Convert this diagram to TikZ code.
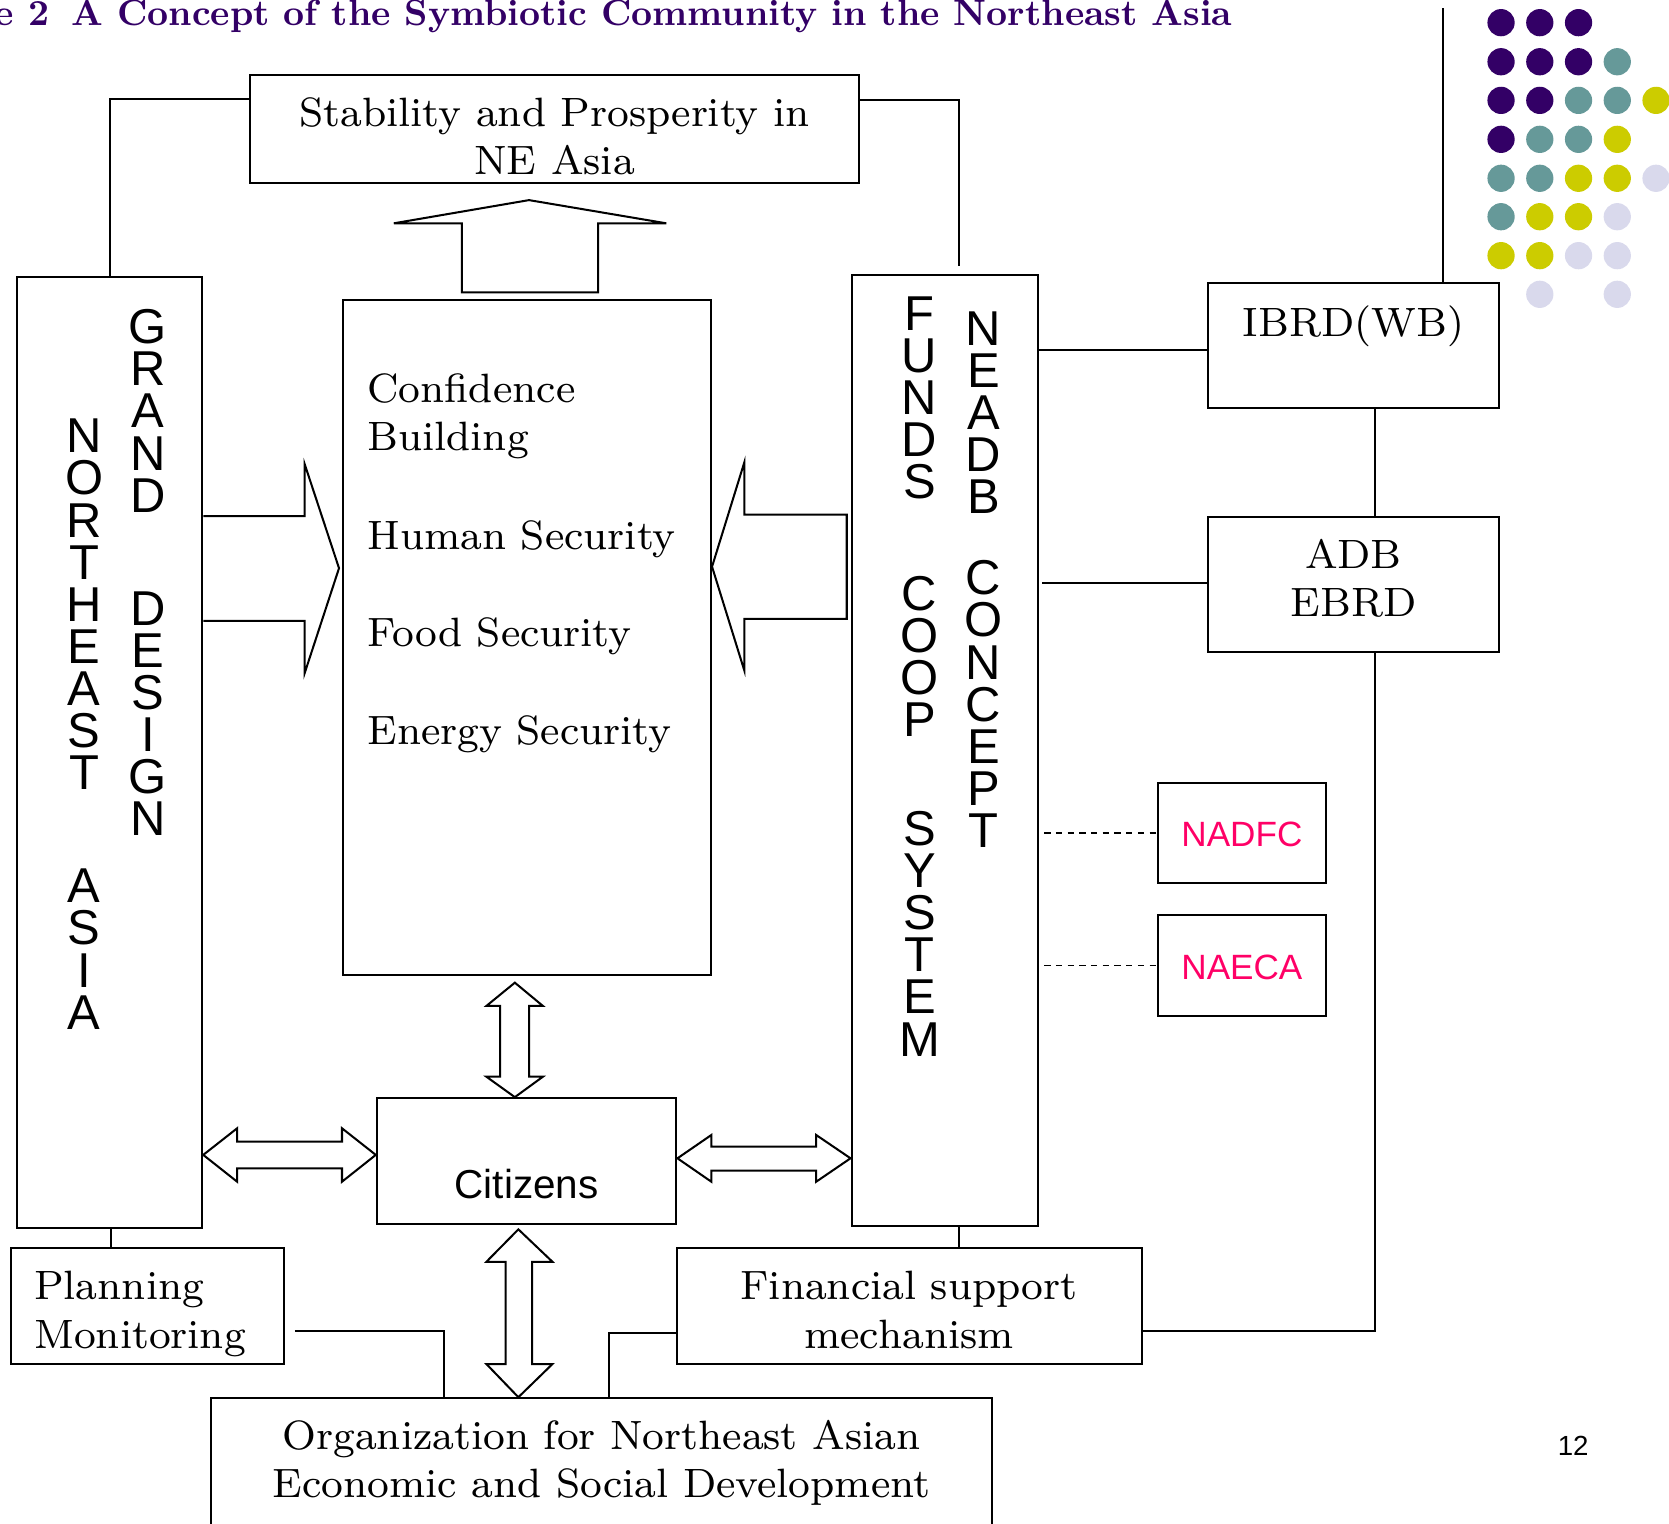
\documentclass[tikz,border=0pt]{standalone}
\usepackage{fontspec}
\setmainfont{lmroman8-regular.otf}[BoldFont=lmroman10-bold.otf]
\setsansfont{Liberation Sans}
\usetikzlibrary{calc}
\definecolor{ttl}{HTML}{330066}
\definecolor{dP}{HTML}{330066}
\definecolor{dT}{HTML}{669999}
\definecolor{dY}{HTML}{CCCC00}
\definecolor{dL}{HTML}{D9D9EC}
\definecolor{pinkt}{HTML}{FF0066}
\begin{document}
\begin{tikzpicture}[x=1pt,y=-1pt,line join=miter,
  box/.style={draw,line width=1.9pt,inner sep=0pt},
  conn/.style={line width=1.9pt},
  dconn/.style={line width=1.3pt,dash pattern=on 6pt off 5pt},
  blk/.style={draw,line width=1.9pt,fill=white},
  txt/.style={inner sep=0pt,font=\fontsize{38.5}{45.5}\selectfont},
  stxt/.style={inner sep=0pt,font=\sffamily\fontsize{38}{44}\selectfont},
  vcol/.style={inner sep=0pt,anchor=north,align=center,font=\sffamily\fontsize{46}{39.6}\selectfont},
  ]
\clip (0,0) rectangle (1568,1431);

% title
\node[anchor=base east,inner sep=0pt,text=ttl,font=\fontsize{34.4}{40}\selectfont\bfseries] (title) at (1158,24.4)
  {e 2\hspace{0.6em}A Concept of the Symbiotic Community in the Northeast Asia};

% decorative dots
\foreach \yy/\lst in {21.3/{dP,dP,dP},58/{dP,dP,dP,dT},94.3/{dP,dP,dT,dT,dY},130.9/{dP,dT,dT,dY},
                      167.5/{dT,dT,dY,dY,dL},203.6/{dT,dY,dY,dL},240.2/{dY,dY,dL,dL}}{
  \foreach \cc [count=\i] in \lst { \fill[\cc] (1410.2+36.4*\i-36.4,\yy) circle (12.8); }
}
\fill[dL] (1446.6,276.5) circle (12.8);
\fill[dL] (1519.4,276.5) circle (12.8);

% boxes
\node[box,minimum width=572pt,minimum height=101.7pt] (stab) at (521,121.4) {};
\node[box,minimum width=174pt,minimum height=894pt] (gd) at (103,707) {};
\node[box,minimum width=345.5pt,minimum height=634pt] (cb) at (495.25,599) {};
\node[box,minimum width=175pt,minimum height=893.6pt] (rb) at (887.5,705.2) {};
\node[box,minimum width=273pt,minimum height=117.5pt] (ibrd) at (1271.5,324.75) {};
\node[box,minimum width=273pt,minimum height=126.8pt] (adb) at (1271.5,548.9) {};
\node[box,minimum width=157.5pt,minimum height=93.9pt] (nadfc) at (1166.75,782.45) {};
\node[box,minimum width=157.5pt,minimum height=94.9pt] (naeca) at (1166.75,907.05) {};
\node[box,minimum width=281.5pt,minimum height=118.3pt] (cit) at (494.75,1090.85) {};
\node[box,minimum width=257pt,minimum height=109.4pt] (plan) at (138.5,1227) {};
\node[box,minimum width=437pt,minimum height=109.4pt] (fin) at (854.5,1227) {};
\node[box,minimum width=734pt,minimum height=146.4pt] (org) at (565,1386.8) {};

% texts
\node[txt,anchor=base] (t1) at (521,119) {Stability and Prosperity in};
\node[txt,anchor=base] (t2) at (521,164.4) {NE Asia};
\node[txt,anchor=base west] (t3) at (345,378.3) {Confidence};
\node[txt,anchor=base west] (t4) at (345,422.8) {Building};
\node[txt,anchor=base west] (t5) at (345,516) {Human Security};
\node[txt,anchor=base west] (t6) at (345,607) {Food Security};
\node[txt,anchor=base west] (t7) at (345,699) {Energy Security};
\node[txt,anchor=base] (t8) at (1271.5,315.7) {IBRD(WB)};
\node[txt,anchor=base] (t9) at (1271.5,534) {ADB};
\node[txt,anchor=base] (t10) at (1271.5,579.5) {EBRD};
\node[stxt,anchor=base,text=pinkt,font=\sffamily\fontsize{33}{38}\selectfont] (t11) at (1166.75,795.5) {NADFC};
\node[stxt,anchor=base,text=pinkt,font=\sffamily\fontsize{33}{38}\selectfont] (t12) at (1166.75,920) {NAECA};
\node[stxt,anchor=base] (t13) at (494.8,1125.7) {Citizens};
\node[txt,anchor=base west] (t14) at (32,1220.6) {Planning};
\node[txt,anchor=base west] (t15) at (32,1266.7) {Monitoring};
\node[txt,anchor=base] (t16) at (854,1220.6) {Financial support};
\node[txt,anchor=base] (t17) at (854,1266.7) {mechanism};
\node[txt,anchor=base] (t18) at (565,1361.6) {Organization for Northeast Asian};
\node[txt,anchor=base] (t19) at (565,1407) {Economic and Social Development};
\node[stxt,anchor=base,font=\sffamily\fontsize{26}{30}\selectfont] (pg) at (1478,1367) {12};

% vertical lettering (one stacked text per column)
\node[vcol] (nea) at (79,393.5) {N\\O\\R\\T\\H\\E\\A\\S\\T\\[66.4pt]A\\S\\I\\A};
\node[vcol] (grd) at (139,290.5) {G\\R\\A\\N\\D\\[66.4pt]D\\E\\S\\I\\G\\N};
\node[vcol] (fcs) at (864,278.5) {F\\U\\N\\D\\S\\[65pt]C\\O\\O\\P\\[62.4pt]S\\Y\\S\\T\\E\\M};
\node[vcol] (nec) at (924,292.5) {N\\E\\A\\D\\B\\[36.4pt]C\\O\\N\\C\\E\\P\\T};

% connectors
\draw[conn] (1355.4,7.8) -- (ibrd.north -| 1355.4,0);
\draw[conn] (gd.north) |- (stab.west |- 0,93);
\draw[conn] ($(rb.north)+(13.5,-7.8)$) |- (stab.east |- 0,94);
\draw[conn] (rb.east |- 0,329) -- (ibrd.west |- 0,329);
\draw[conn] (ibrd.south -| 1291.8,0) -- (adb.north -| 1291.8,0);
\draw[conn] ($(rb.east |- 0,547.5)+(3,0)$) -- (adb.west |- 0,547.5);
\draw[conn] (adb.south -| 1291.8,0) |- (fin.east |- 0,1250.6);
\draw[dconn] ($(rb.east |- nadfc.west)+(5,0)$) -- (nadfc.west);
\draw[dconn] ($(rb.east |- naeca.west)+(5,0)$) -- (naeca.west);
\draw[conn] (gd.south -| 104,0) -- (plan.north -| 104,0);
\draw[conn] (rb.south -| 901,0) -- (fin.north -| 901,0);
\draw[conn] ($(plan.east |- 0,1250.6)+(9,0)$) -| (org.north -| 417,0);
\draw[conn] (fin.west |- 0,1252.6) -| (org.north -| 572,0);

% block arrows
\draw[blk] (434,274.6) -- (434,209.8) -- (370,209.8) -- (497,188) -- (626,209.8) -- (562,209.8) -- (562,274.6) -- cycle;
\draw[blk] (gd.east |- 0,484.8) -- (286.2,484.8) -- (286.2,435.9) -- (318.5,533.8) -- (286.2,632.5) -- (286.2,583.4) -- (gd.east |- 0,583.4);
\draw[blk] (795.5,483.5) -- (699.3,483.5) -- (699.3,434.3) -- (cb.east |- 0,532.4) -- (699.3,630) -- (699.3,581.5) -- (795.5,581.5) -- cycle;
\draw[blk] (483.7,923.2) -- (510.1,945.1) -- (497.1,945.1) -- (497.1,1011.5) -- (510.1,1011.5) -- (cit.north -| 483.7,0)
  -- (456.9,1011.5) -- (469.9,1011.5) -- (469.9,945.1) -- (456.9,945.1) -- cycle;
\draw[blk] (gd.east |- 0,1085) -- (222.8,1060) -- (222.8,1072.6) -- (321.3,1072.6) -- (321.3,1060) -- (cit.west |- 0,1085)
  -- (321.3,1110.2) -- (321.3,1097.6) -- (222.8,1097.6) -- (222.8,1110.2) -- cycle;
\draw[blk] (cit.east |- 0,1088.2) -- (668.3,1066.3) -- (668.3,1077.3) -- (766.8,1077.3) -- (766.8,1066.3) -- (rb.west |- 0,1088.2)
  -- (766.8,1110.2) -- (766.8,1099.8) -- (668.3,1099.8) -- (668.3,1110.2) -- cycle;
\draw[blk] ($(cit.south -| 487,0)+(0,4)$) -- (519,1185.4) -- (500,1185.4) -- (500,1281.5) -- (519,1281.5) -- (org.north -| 487,0)
  -- (457,1281.5) -- (475,1281.5) -- (475,1185.4) -- (457,1185.4) -- cycle;
\end{tikzpicture}
\end{document}
